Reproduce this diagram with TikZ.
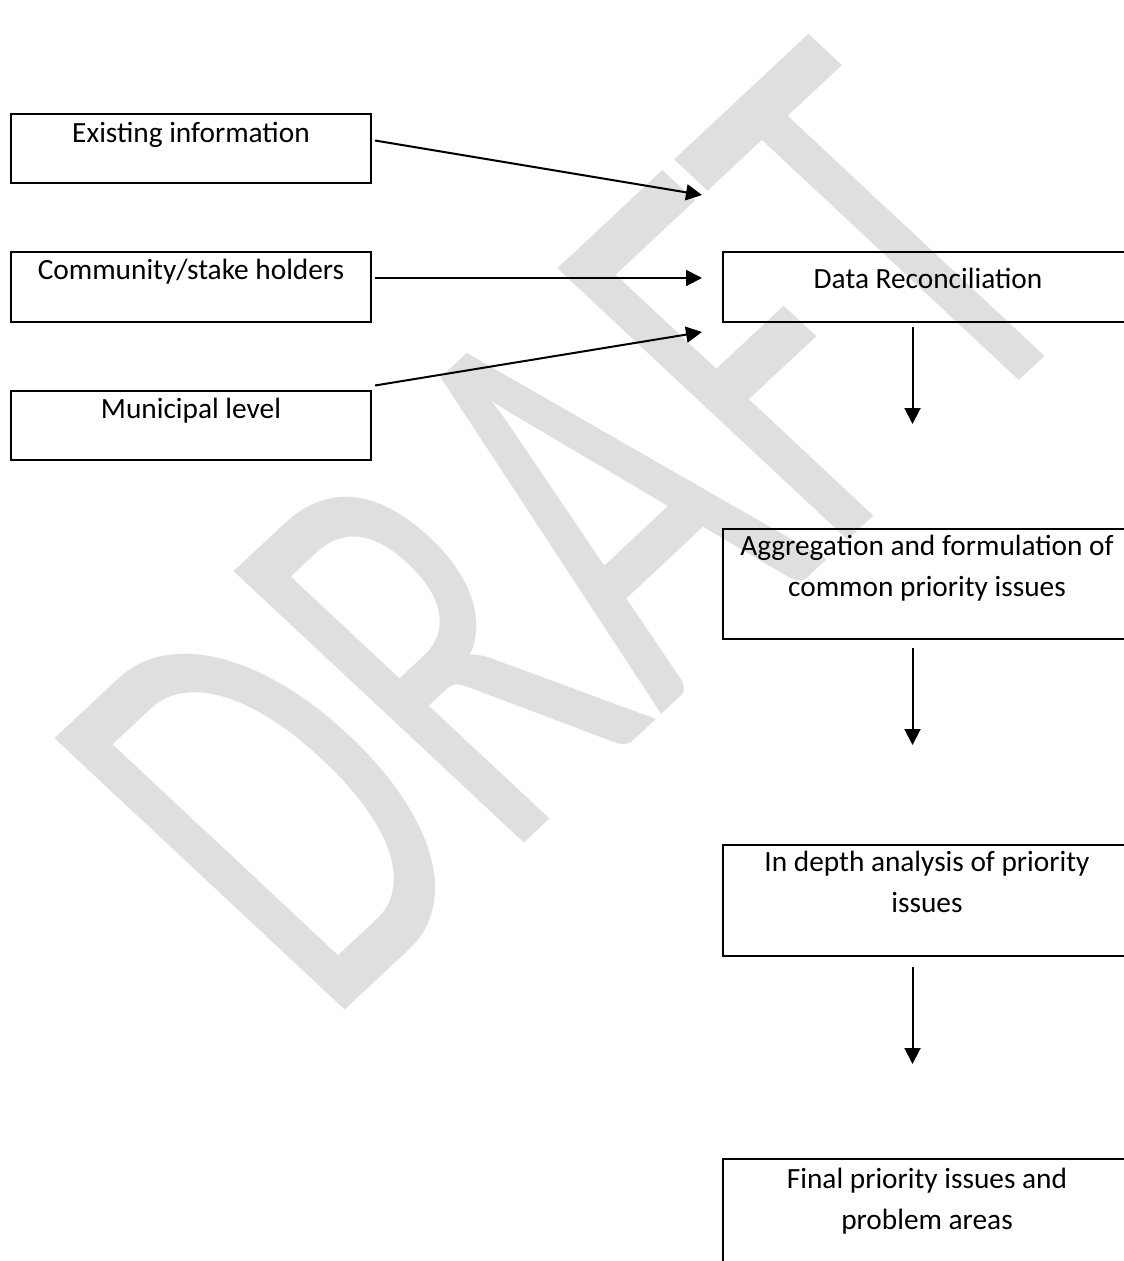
\documentclass[tikz,border=0pt]{standalone}
\usepackage{fontspec}
\setmainfont{Carlito}
\usetikzlibrary{arrows.meta,calc}
\definecolor{wmgray}{RGB}{223,223,223}
\begin{document}
\begin{tikzpicture}[x=1pt,y=-1pt,
  box/.style={draw=black, line width=2pt, inner sep=0pt, outer sep=0pt, anchor=north west},
  lbl/.style={font=\fontsize{29.33}{41}\selectfont, align=center, anchor=base, inner sep=0pt},
  arr/.style={line width=2pt, -{Triangle[length=16pt,width=16pt]}},
  wmark/.style={text=wmgray, font=\fontsize{640}{640}\selectfont, inner sep=0pt, transform shape, rotate=45, anchor=base west}]
\useasboundingbox (0,0) rectangle (1124,1261);
\clip (0,0) rectangle (1124,1261);
% watermark
\begin{scope}[shift={(325,1029)}, yscale=0.935]
\node[wmark] (draft) at (0,0) {\scalebox{0.64}[1]{DRAFT}};
\end{scope}
% left boxes
\node[box, minimum width=360pt, minimum height=69pt] (exist) at (11,114) {};
\node[box, minimum width=360pt, minimum height=70pt] (comm) at (11,252) {};
\node[box, minimum width=360pt, minimum height=69pt] (muni) at (11,391) {};
% right boxes
\node[box, minimum width=409pt, minimum height=70pt] (data) at (723,252) {};
\node[box, minimum width=409pt, minimum height=110pt] (agg) at (723,529) {};
\node[box, minimum width=409pt, minimum height=111pt] (depth) at (723,845) {};
\node[box, minimum width=409pt, minimum height=110pt] (final) at (723,1159) {};
% labels (anchor base = last line)
\node[lbl] (exist-t) at (191,142) {Existing information};
\node[lbl] (comm-t) at (191,279) {Community/stake holders};
\node[lbl] (muni-t) at (191,418) {Municipal level};
\node[lbl] (data-t) at (928,288) {Data Reconciliation};
\node[lbl] (agg-t) at (927,596) {Aggregation and formulation of\\common priority issues};
\node[lbl] (depth-t) at (927,912) {In depth analysis of priority\\issues};
\node[lbl] (final-t) at (927,1229) {Final priority issues and\\problem areas};
% arrow ends
\coordinate (t1) at (702,195);
\coordinate (t2) at (702,278);
\coordinate (t3) at (702,332);
\coordinate (s1) at ($(data.south)+(-15,5)$);
\coordinate (s2) at ($(agg.south)+(-15,9)$);
\coordinate (s3) at ($(depth.south)+(-15,11)$);
\coordinate (v1) at (912.5,424);
\coordinate (v2) at (912.5,745);
\coordinate (v3) at (912.5,1064);
% connectors
\draw[arr] ($(exist.east)+(4,-8)$) -- (t1);
\draw[arr] ($(comm.east)+(4,-9)$) -- (t2);
\draw[arr] ($(muni.east)+(4,-40)$) -- (t3);
\draw[arr] (s1) -- (s1 |- v1);
\draw[arr] (s2) -- (s2 |- v2);
\draw[arr] (s3) -- (s3 |- v3);
\end{tikzpicture}
\end{document}
